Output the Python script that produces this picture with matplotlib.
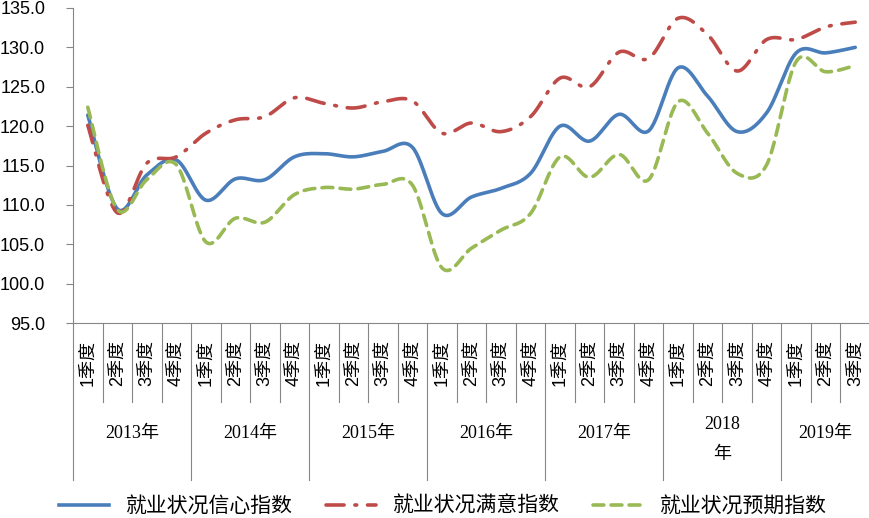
import numpy as np
import matplotlib
matplotlib.use("Agg")
import matplotlib.pyplot as plt
import matplotlib.transforms as mtransforms
from matplotlib.lines import Line2D

years = ["2013年", "2014年", "2015年", "2016年", "2017年", "2018\n年", "2019年"]
quarters = ["1季度", "2季度", "3季度", "4季度"]
n_quarters = 27

confidence = [121.4, 109.5, 113.8, 115.7, 110.6, 113.3, 113.2, 116.1, 116.5, 116.1,
              116.8, 117.3, 108.9, 111.0, 112.1, 114.0, 120.0, 118.1, 121.5, 119.4,
              127.4, 123.8, 119.3, 121.7, 129.3, 129.3, 130.0]
satisfaction = [120.1, 109.0, 115.3, 116.1, 119.1, 120.8, 121.2, 123.6, 122.9, 122.3,
                123.1, 123.2, 119.1, 120.4, 119.3, 121.2, 126.1, 125.0, 129.4, 128.6,
                133.7, 131.6, 127.0, 131.0, 131.0, 132.6, 133.2]
expectation = [122.4, 109.4, 113.2, 115.1, 105.3, 108.3, 107.8, 111.3, 112.2, 112.0,
               112.6, 112.5, 102.0, 104.5, 106.8, 108.9, 116.1, 113.5, 116.4, 113.2,
               123.1, 119.1, 114.0, 115.1, 128.2, 126.9, 127.7]

names = ["就业状况信心指数", "就业状况满意指数", "就业状况预期指数"]
colors = ["#4A7EBB", "#BE4B48", "#98B954"]

plt.rcParams["font.family"] = ["Liberation Sans", "Noto Sans CJK SC"]


def smooth(xs, ys, steps=30):
    # office style smoothed line: bezier through every point
    xs = np.asarray(xs, float)
    ys = np.asarray(ys, float)
    px = np.concatenate([[xs[0]], xs, [xs[-1]]])
    py = np.concatenate([[ys[0]], ys, [ys[-1]]])
    outx, outy = [], []
    t = np.linspace(0, 1, steps)
    for i in range(1, len(px) - 2):
        p0 = np.array([px[i], py[i]])
        p3 = np.array([px[i + 1], py[i + 1]])
        c1 = p0 + (p3 - np.array([px[i - 1], py[i - 1]])) / 6
        c2 = p3 - (np.array([px[i + 2], py[i + 2]]) - p0) / 6
        b = ((1 - t) ** 3)[:, None] * p0 + (3 * (1 - t) ** 2 * t)[:, None] * c1 \
            + (3 * (1 - t) * t ** 2)[:, None] * c2 + (t ** 3)[:, None] * p3
        outx.extend(b[:, 0])
        outy.extend(b[:, 1])
    return outx, outy


fig = plt.figure(figsize=(8.7, 5.18), dpi=100)
ax = fig.add_axes([73 / 870, 195 / 518, 797 / 870, 315 / 518])

x = np.arange(n_quarters)
styles = [dict(linestyle="-", lw=2.6),
          dict(linestyle=(0, (5, 3, 0.5, 3)), lw=2.6, dash_capstyle="round"),
          dict(linestyle=(0, (3, 2)), lw=2.6, dash_capstyle="round")]
handles = []
for series, c, st in zip([confidence, satisfaction, expectation], colors, styles):
    sx, sy = smooth(x, series)
    ax.plot(sx, sy, color=c, solid_capstyle="round", **st)
    handles.append(Line2D([], [], color=c, **st))

ax.set_xlim(-0.5, n_quarters - 0.5)
ax.set_ylim(95, 135)
ax.set_yticks(np.arange(95, 136, 5))
ax.set_yticklabels([f"{v:.1f}" for v in np.arange(95, 136, 5)], fontsize=13)
ax.set_xticks([])
for s in ["top", "right"]:
    ax.spines[s].set_visible(False)
for s in ["left", "bottom"]:
    ax.spines[s].set_color("#868686")
ax.tick_params(axis="y", direction="out", length=5, color="#868686", pad=15)

trans = mtransforms.blended_transform_factory(ax.transData, ax.transAxes)
for i in range(n_quarters + 1):
    pos = i - 0.5
    bottom = -0.498 if i % 4 == 0 else -0.251
    if i == n_quarters:
        bottom = -0.251
    ax.plot([pos, pos], [0, bottom], color="#868686", lw=0.8, transform=trans, clip_on=False)

for i in range(n_quarters):
    ax.text(i, -0.127, quarters[i % 4], rotation=90, ha="center", va="center",
            fontsize=13, transform=trans, family=["Liberation Sans", "Noto Sans CJK SC"])

for k, y in enumerate(years):
    start = k * 4
    end = min(start + 3, n_quarters - 1)
    ypos = -0.37 if "\n" in y else -0.35
    ax.text((start + end) / 2, ypos, y, ha="center", va="center", fontsize=13,
            transform=trans, family=["Liberation Serif", "Noto Sans CJK SC"], linespacing=2.0)

fig.legend(handles, names, loc="center", bbox_to_anchor=(443 / 870, 12 / 518), ncol=3,
           frameon=False, handlelength=2.4, handletextpad=0.8, columnspacing=1.6,
           prop={"family": ["Noto Sans CJK SC"], "size": 15})

fig.savefig("out.png", dpi=100)
